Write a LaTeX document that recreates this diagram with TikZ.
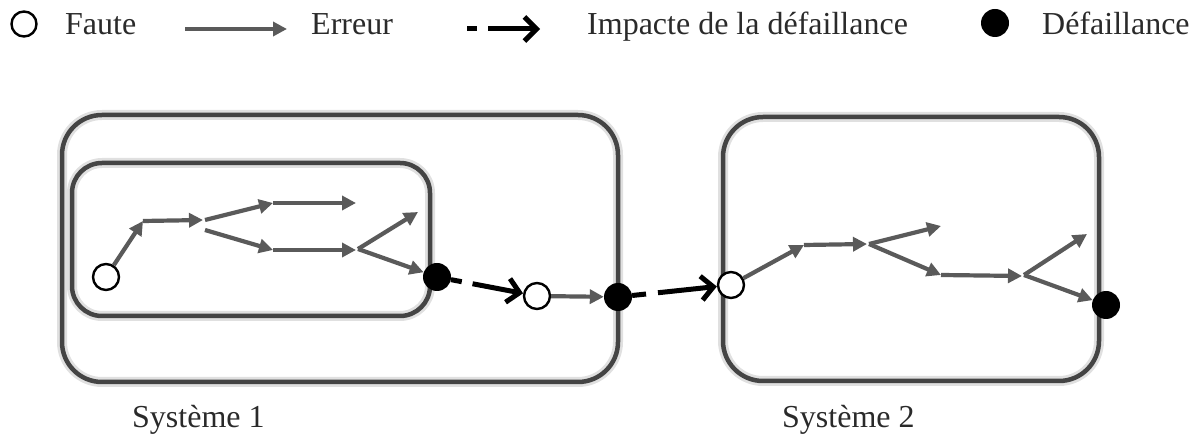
\documentclass[tikz,border=0pt]{standalone}
\usepackage{fontspec}
\setmainfont{Liberation Serif}
\usetikzlibrary{arrows.meta}
\definecolor{errgray}{HTML}{5A5A5A}
\definecolor{boxgray}{HTML}{444444}
\definecolor{txtgray}{HTML}{2A2A2A}
\begin{document}
\begin{tikzpicture}[x=1pt,y=-1pt,
  sysbox/.style={draw=boxgray, line width=4.5pt, preaction={draw=black!12, line width=10pt}},
  faute/.style={circle, draw=black, line width=2.4pt, fill=white, minimum size=26pt, inner sep=0pt},
  defail/.style={circle, fill=black, minimum size=28pt, inner sep=0pt},
  err/.style={draw=errgray, line width=4.2pt, -{Triangle[length=14pt,width=14pt]}},
  impact/.style={draw=black, line width=5pt, -{Straight Barb[length=12pt,width=24pt]}, dash pattern=on 11pt off 11pt on 300pt},
  lbl/.style={font=\fontsize{32}{38}\selectfont, text=txtgray, anchor=base west, inner sep=0pt}
]
\useasboundingbox (0,0) rectangle (1203,435);

% ---------- legend ----------
\node[faute, minimum size=25pt] (lf) at (24,24) {};
\node[lbl] (tfaute) at (65,35) {Faute};
\coordinate (le1) at (185,29);
\coordinate (le2) at (287,29);
\draw[err] (le1) -- (le2);
\node[lbl] (terreur) at (311,35) {Erreur};
\coordinate (li1) at (467,29);
\coordinate (li2) at (540,29);
\draw[impact, dash pattern=on 10pt off 11pt on 300pt] (li1) -- (li2);
\node[lbl] (timpact) at (587,35) {Impacte de la défaillance};
\node[defail] (ld) at (995,23) {};
\node[lbl] (tdef) at (1042,35) {Défaillance};

% ---------- boxes ----------
\node[sysbox, rounded corners=40pt, minimum width=556pt, minimum height=267pt] (S1) at (340,248.5) {};
\node[sysbox, rounded corners=30pt, minimum width=358pt, minimum height=153pt] (S1in) at (251,239.5) {};
\node[sysbox, rounded corners=40pt, minimum width=376pt, minimum height=264pt] (S2) at (911,249) {};

\node[lbl] (ts1) at (132,428) {Système 1};
\node[lbl] (ts2) at (782,428) {Système 2};

% ---------- system 1 ----------
\node[faute] (f1) at (106,277) {};
\coordinate (a1) at (143,221);
\coordinate (a2) at (203,220);
\coordinate (a2u) at (205,220);
\coordinate (a2d) at (205,230);
\coordinate (a3) at (273,203);
\coordinate (a4) at (273,250);
\coordinate (a5) at (356,203);
\coordinate (a6) at (356,250);
\coordinate (a6b) at (358,249);
\coordinate (a7) at (418,212);
\node[defail] (d1) at (437,277) {};
\node[faute] (f2) at (537,296) {};
\node[defail] (d2) at (618,297) {};

\draw[err] (f1) -- (a1);
\draw[err] (a1) -- (a2);
\draw[err] (a2u) -- (a3);
\draw[err] (a2d) -- (a4);
\draw[err] (a3) -- (a5);
\draw[err] (a4) -- (a6);
\draw[err] (a6b) -- (a7);
\draw[err] (a6b) -- (d1);
\draw[impact] (d1) -- (f2);
\draw[err] (f2) -- (d2);

% ---------- system 2 ----------
\node[faute] (f3) at (731,285) {};
\coordinate (b1) at (804,245);
\coordinate (b2) at (867,244);
\coordinate (b2s) at (869,244);
\coordinate (b3) at (941,226);
\coordinate (b4) at (941,275);
\coordinate (b5) at (1022,276);
\coordinate (b5s) at (1024,275);
\coordinate (b6) at (1087,234);
\node[defail] (d3) at (1106,305) {};

\draw[impact, dash pattern=on 14pt off 12pt on 300pt] (d2) -- (f3);
\draw[err] (f3) -- (b1);
\draw[err] (b1) -- (b2);
\draw[err] (b2s) -- (b3);
\draw[err] (b2s) -- (b4);
\draw[err] (b4) -- (b5);
\draw[err] (b5s) -- (b6);
\draw[err] (b5s) -- (d3);
\end{tikzpicture}
\end{document}
